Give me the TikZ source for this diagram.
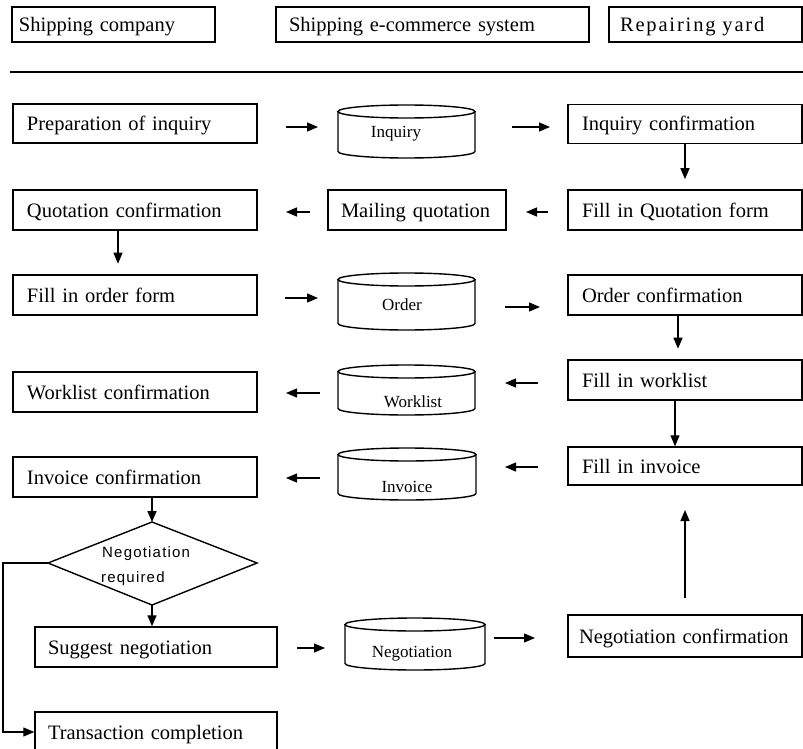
\documentclass[tikz,border=0pt]{standalone}
\usepackage{fontspec}
\setmainfont{Liberation Serif}
\newfontfamily\ryfont[LetterSpace=9]{Liberation Serif}
\newfontfamily\dsans[LetterSpace=8]{Liberation Sans}
\usetikzlibrary{arrows.meta}
\newcommand\mainsz{\fontsize{20.5}{24}\selectfont}
\tikzset{
  boxline/.style={line width=1.4pt},
  pbox/.style={draw, boxline, rectangle, inner ysep=0pt, text height=14pt, text depth=0pt, align=left, font=\mainsz},
  hbox/.style={pbox, minimum height=35pt},
  lbox/.style={pbox, text width=216pt, inner xsep=14pt, minimum height=39pt},
  rbox/.style={pbox, text width=206pt, inner xsep=14pt, minimum height=39pt},
  cyltxt/.style={anchor=base, inner sep=0pt, font=\fontsize{17}{20}\selectfont},
  dtxt/.style={anchor=base west, inner sep=0pt, font=\dsans\fontsize{15}{18}\selectfont},
  arr/.style={line width=1.3pt, -{Triangle[length=11pt,width=9pt]}},
}
\newcommand\cyl[8]{%
  \draw[boxline] ({#2},{#4+6.5}) -- ({#2},{#5-6.5}) arc[start angle=180,end angle=0,x radius={(#3-#2)/2},y radius=6.5] -- ({#3},{#4+6.5});
  \draw[boxline] ({(#2+#3)/2},{#4+6.5}) ellipse[x radius={(#3-#2)/2}, y radius=6.5];
  \node[cyltxt] (#1) at (#7,#8) {#6};}
\newcommand\conn[5]{\coordinate (#1s) at (#2,#3); \coordinate (#1e) at (#4,#5); \draw[arr] (#1s) -- (#1e);}
\begin{document}
\begin{tikzpicture}[x=1pt,y=-1pt]
\fill[white] (0,0) rectangle (803,749);
\useasboundingbox (0,0) rectangle (803,749);
\clip (0,0) rectangle (803,749);

% header
\node[hbox, text width=189pt, inner xsep=7pt] (hsc) at (113.5,24.5) {Shipping company};
\node[hbox, text width=287pt, inner xsep=13pt] (hes) at (432.5,24.5) {Shipping e-commerce system};
\node[hbox, text width=171pt, inner xsep=11pt, font=\ryfont\mainsz] (hry) at (705.5,24.5) {Repairing yard};
\coordinate (hl1) at (10,72); \coordinate (hl2) at (803,72);
\draw[line width=1.5pt] (hl1) -- (hl2);

% boxes
\node[lbox] (prep) at (135,123.5) {Preparation of inquiry};
\node[rbox] (inqc) at (685,124) {Inquiry confirmation};
\node[lbox, minimum height=40pt] (quoc) at (135,210) {Quotation confirmation};
\node[pbox, text width=152pt, inner xsep=13pt, minimum height=40pt] (mail) at (417,210) {Mailing quotation};
\node[rbox, minimum height=40pt] (fillq) at (685,210) {Fill in Quotation form};
\node[lbox, minimum height=40pt] (ford) at (135,295) {Fill in order form};
\node[rbox, minimum height=40pt] (ordc) at (685,295) {Order confirmation};
\node[lbox, minimum height=40pt] (wlc) at (135,392) {Worklist confirmation};
\node[rbox, minimum height=40pt] (fwl) at (685,380) {Fill in worklist};
\node[lbox, minimum height=40pt] (invc) at (135,477) {Invoice confirmation};
\node[rbox, minimum height=38pt] (finv) at (685,466) {Fill in invoice};
\node[pbox, text width=216pt, inner xsep=13pt, minimum height=40pt] (sug) at (156,647) {Suggest negotiation};
\node[pbox, text width=212pt, inner xsep=11pt, minimum height=42pt] (negc) at (685,636) {\mbox{Negotiation confirmation}};
\node[pbox, text width=216pt, inner xsep=13pt, minimum height=40pt] (trans) at (156,732) {Transaction completion};

% cylinders
\cyl{cinq}{338}{475}{105}{158}{Inquiry}{396}{138}
\cyl{cord}{338}{475}{273}{330}{Order}{402}{310}
\cyl{cwl}{338}{475}{365}{415}{Worklist}{413}{407}
\cyl{cinv}{338}{476}{448}{500}{Invoice}{407}{492}
\cyl{cneg}{345}{485}{618}{670}{Negotiation}{412}{657}

% decision
\coordinate (dT) at (152,522); \coordinate (dR) at (257,563);
\coordinate (dB) at (152,605); \coordinate (dL) at (48,563);
\draw[boxline] (dT) -- (dR) -- (dB) -- (dL) -- cycle;
\node[dtxt] (dia1) at (102,557) {Negotiation};
\node[dtxt] (dia2) at (101,582) {required};

% horizontal arrows
\conn{h1}{286}{127}{318}{127}
\conn{h2}{512}{127}{550}{127}
\conn{h3}{310}{212}{286}{212}
\conn{h4}{548}{212}{526}{212}
\conn{h5}{285}{298}{318}{298}
\conn{h6}{505}{307}{540}{307}
\conn{h7}{320}{393}{286}{393}
\conn{h8}{538}{383}{505}{383}
\conn{h9}{320}{478}{286}{478}
\conn{h10}{538}{467}{505}{467}
\conn{h11}{297}{648}{325}{648}
\conn{h12}{494}{638}{535}{638}

% vertical arrows
\draw[arr] (inqc.south) -- ++(0,35);
\draw[arr] ([xshift=-17pt]quoc.south) -- ++(0,33);
\draw[arr] ([xshift=-7pt]ordc.south) -- ++(0,33);
\draw[arr] ([xshift=-10pt]fwl.south) -- ([xshift=-10pt]finv.north);
\draw[arr] ([xshift=17pt]invc.south) -- (dT);
\draw[arr] (dB) -- ([xshift=-4pt]sug.north);
\coordinate (upS) at (685,598);
\draw[arr] (upS) -- (685,510);
\coordinate (bc) at (3,563);
\draw[arr] (dL) -- (bc) |- (trans.west);
\end{tikzpicture}
\end{document}
